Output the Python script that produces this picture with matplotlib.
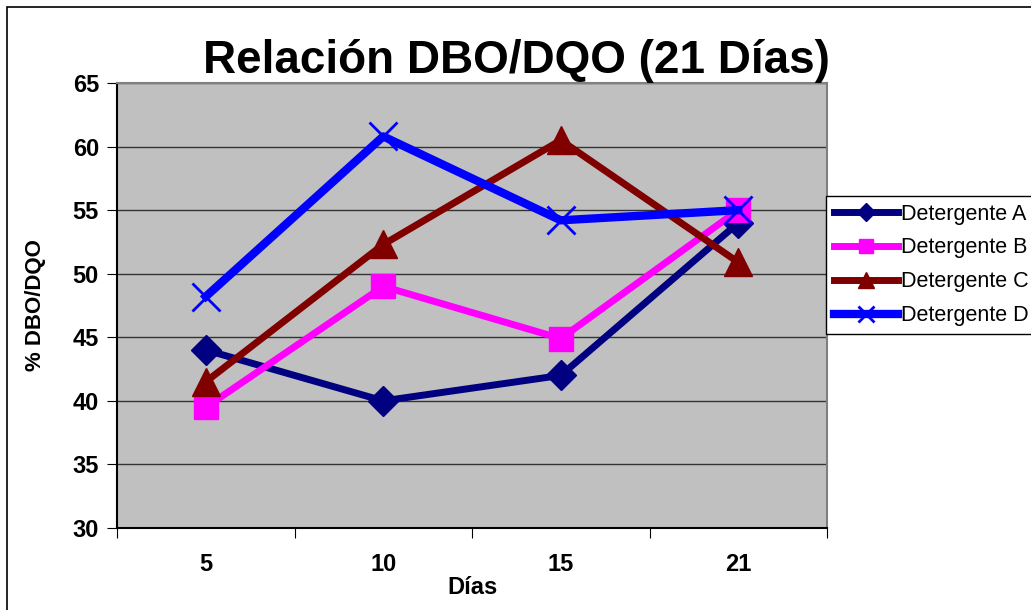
import numpy as np
import matplotlib.pyplot as plt
from matplotlib.patches import Rectangle

dias = ["5", "10", "15", "21"]
det_a = [44.0, 40.0, 42.0, 54.0]
det_b = [39.5, 49.0, 44.9, 55.0]
det_c = [41.5, 52.3, 60.5, 50.9]
det_d = [48.2, 60.8, 54.2, 55.0]
series_names = ["Detergente A", "Detergente B", "Detergente C", "Detergente D"]

plt.rcParams['font.family'] = ['Liberation Sans', 'DejaVu Sans']

fig = plt.figure(figsize=(10.31, 6.10), dpi=100)
W, H = 1031, 610
# plot area in pixels: left 117, right 827, top 83, bottom 528
ax = fig.add_axes([117 / W, 1 - 528 / H, (827 - 117) / W, (528 - 83) / H])
ax.set_facecolor('#C0C0C0')

x = np.arange(len(dias))
ax.plot(x, det_a, color='#000080', lw=5, marker='D', ms=15, label=series_names[0])
ax.plot(x, det_b, color='#FF00FF', lw=5, marker='s', ms=17, label=series_names[1])
ax.plot(x, det_c, color='#800000', lw=5, marker='^', ms=20, label=series_names[2])
ax.plot(x, det_d, color='#0000FF', lw=6, marker='x', ms=20, mew=2, label=series_names[3])

ax.set_ylim(30, 65)
ax.set_yticks(np.arange(30, 66, 5))
ax.yaxis.grid(True, color='#333333', lw=1)
ax.set_axisbelow(True)
ax.set_xlim(-0.5, len(dias) - 0.5)
ax.set_xticks(np.arange(-0.5, len(dias), 1))
ax.set_xticklabels([])
ax.set_xticks(x, minor=True)
ax.set_xticklabels(dias, minor=True)
ax.tick_params(axis='x', which='minor', length=0, pad=18, labelsize=17)
ax.tick_params(axis='x', which='major', length=7, color='black')
ax.tick_params(axis='y', length=7, labelsize=17, pad=6)
for lbl in ax.get_xticklabels(minor=True) + ax.get_yticklabels():
    lbl.set_fontweight('bold')

for s in ax.spines.values():
    s.set_color('#808080')
    s.set_linewidth(1.5)
ax.spines['left'].set_color('black')
ax.spines['bottom'].set_color('black')

ax.set_xlabel('Días', fontsize=17, fontweight='bold', labelpad=0)
ax.set_ylabel('% DBO/DQO', fontsize=16, fontweight='bold', labelpad=19)

fig.text(516 / W, 1 - 61 / H, 'Relación DBO/DQO (21 Días)', ha='center', va='center',
         fontsize=33, fontweight='bold')

leg = fig.legend(loc='upper left', bbox_to_anchor=(826 / W, 1 - 196 / H), fontsize=15.5,
                 frameon=True, fancybox=False, edgecolor='black', framealpha=1,
                 handlelength=3.0, handletextpad=0.15, borderpad=0.35, labelspacing=0.6,
                 borderaxespad=0, markerscale=0.6)
leg.get_frame().set_linewidth(1)

fig.patches.append(Rectangle((7 / W, -0.1), 2, 1.1 - 7 / H, transform=fig.transFigure,
                             fill=False, edgecolor='black', lw=1.2))

fig.savefig('out.png', dpi=100)
